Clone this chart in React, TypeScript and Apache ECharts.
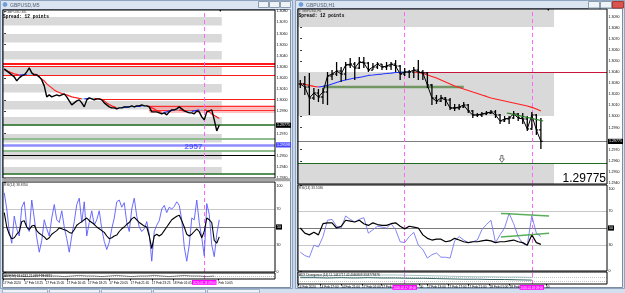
import React, { useEffect, useRef } from "react";
import * as echarts from "echarts";

// ================= LEFT WINDOW : GBPUSD,M5 =================
const leftClose = [
  1.30282, 1.30264, 1.30246, 1.30228, 1.3021, 1.30174, 1.30201, 1.30219, 1.30228, 1.30255,
  1.30291, 1.30246, 1.30228, 1.30228, 1.3021, 1.30183, 1.30129, 1.3003, 1.30048, 1.3003,
  1.30039, 1.30048, 1.30039, 1.30048, 1.30057, 1.3003, 1.29994, 1.29958, 1.29976, 1.29994,
  1.30003, 1.29976, 1.2994, 1.30003, 1.30021, 1.30012, 1.30003, 1.30012, 1.30012, 1.30003,
  1.29976, 1.29958, 1.2994, 1.29931, 1.29931, 1.29922, 1.29931, 1.29931, 1.2994, 1.2994,
  1.2994, 1.29949, 1.2994, 1.29949, 1.29949, 1.29958, 1.29949, 1.29949, 1.2994, 1.29895,
  1.29895, 1.29895, 1.29886, 1.29877, 1.29886, 1.29868, 1.29895, 1.29913, 1.29913, 1.29922,
  1.2994, 1.29922, 1.29904, 1.29895, 1.29886, 1.29886, 1.29877, 1.29904, 1.29895, 1.2985,
  1.29823, 1.29895, 1.29904, 1.29913, 1.29823, 1.29724, 1.29775,
];
const leftMA = [
  1.30273, 1.30264, 1.30255, 1.30246, 1.30237, 1.30232, 1.30226, 1.30229, 1.30231, 1.30233,
  1.30234, 1.30235, 1.30235, 1.3023, 1.3021, 1.30192, 1.30174, 1.30147, 1.30129, 1.30111,
  1.30093, 1.30079, 1.3007, 1.30061, 1.30052, 1.30048, 1.30039, 1.3003, 1.30025, 1.30021,
  1.30016, 1.30012, 1.30012, 1.30014, 1.30016, 1.30017, 1.30017, 1.30012, 1.3001, 1.30007,
  1.29994, 1.29976, 1.29962, 1.29949, 1.2994, 1.29931, 1.29931, 1.29932, 1.29935, 1.29936,
  1.2994, 1.29941, 1.29942, 1.29944, 1.29945, 1.29949, 1.29949, 1.29948, 1.29944, 1.29931,
  1.29922, 1.29908, 1.29899, 1.2989, 1.2989, 1.29895, 1.29904, 1.29908, 1.29913, 1.29914,
  1.29913, 1.29908, 1.29904, 1.29899, 1.29899, 1.299, 1.29904, 1.29908, 1.29913, 1.29914,
  1.29913, 1.29908, 1.29895, 1.29877, 1.29863, 1.2985, 1.29836,
];
const leftRsiFast = [
  88, 70, 45, 32, 62, 48, 40, 72, 78, 50,
  45, 80, 60, 38, 22, 35, 58, 48, 40, 60,
  75, 58, 55, 68, 50, 37, 22, 40, 56, 75,
  82, 55, 78, 40, 55, 68, 52, 58, 68, 48,
  34, 25, 33, 48, 60, 78, 80, 72, 77, 55,
  45, 70, 82, 62, 50, 45, 48, 56, 42, 12,
  45, 52, 57, 70, 74, 66, 72, 70, 73, 78,
  74, 58, 28, 12, 30, 60, 58, 80, 55, 38,
  18, 76, 64, 30, 17, 42, 58,
];
const leftRsiSlow = [
  66, 50, 42, 37, 38, 42, 45, 56, 57, 50,
  47, 51, 52, 46, 43, 41, 39, 36, 38, 42,
  44, 46, 49, 48, 47, 46, 44, 43, 47, 52,
  54, 56, 58, 60, 57, 55, 53, 50, 48, 46,
  44, 40, 37, 38, 40, 41, 45, 48, 50, 53,
  55, 59, 61, 58, 55, 53, 51, 50, 40, 26,
  40, 42, 40, 42, 46, 50, 54, 58, 60, 62,
  63, 57, 50, 42, 40, 42, 45, 48, 45, 38,
  45, 60, 58, 55, 35, 32, 39,
];
const leftAdx = [5, 6, 5, 4, 5, 6, 5, 5, 4, 5, 6, 5, 5, 4, 5, 6, 5, 4, 5, 5, 6, 5, 4, 5, 6, 5, 5, 4, 5];
const leftPriceTicks = [
  1.293, 1.294, 1.295, 1.296, 1.297, 1.298, 1.299, 1.3, 1.301, 1.302, 1.303, 1.304, 1.305, 1.306, 1.307, 1.308,
];
// time labels as they remain visible around the magenta cursor-time boxes
const leftTimeTicks = [-0.5, 8, 16.5, 25, 33.5, 42, 50.5, 59, 67.5, 85.7];
const leftTimeLabels = [
  "17 Feb 2020", "17 Feb 13:25", "17 Feb 15:05", "17 Feb 16:45", "17 Feb 18:25",
  "17 Feb 20:05", "17 Feb 21:45", "17 Feb 23:25", "18 Feb 01:05", "Feb 10:05",
];
const leftBands = [
  [1.3075, 1.30673], [1.30597, 1.3052], [1.30443, 1.30367], [1.303, 1.30223], [1.30146, 1.3007],
  [1.29993, 1.29917], [1.2985, 1.29773], [1.29697, 1.2962], [1.29543, 1.29467], [1.294, 1.29341],
];
const leftBandEnd = 87;
const leftRedLevels = [1.30331, 1.30305, 1.30228];
const leftRedPartial = 1.30012;
const leftRedPartialFrom = 39;
const leftPinkZone = [1.29958, 1.29886];
const leftPinkLevels = [1.29949, 1.29913];
const leftPinkFrom = 58;
const leftBid = 1.29775;
const leftGreenLight = [1.29652, 1.29544];
const leftBlueLevel = 1.29598;
const leftBlackLevel = 1.29508;
const leftGreenDark = 1.29337;
const leftVLine = 80;
const leftVLineLabel = "2020.02.18 09:00";
const leftNoteText = "2957";
const leftNoteAt = [75.7, 1.29588];

// ================= RIGHT WINDOW : GBPUSD,H1 =================
const rightClose = [
  1.30292, 1.30265, 1.30166, 1.30211, 1.30175, 1.3022, 1.30364, 1.30382, 1.30409, 1.30382,
  1.30463, 1.30472, 1.30436, 1.3049, 1.30481, 1.30418, 1.30445, 1.30472, 1.30445, 1.30454,
  1.30472, 1.30454, 1.30382, 1.304, 1.304, 1.30418, 1.304, 1.30391, 1.30283, 1.30166,
  1.30139, 1.30166, 1.30148, 1.30076, 1.30076, 1.30085, 1.30103, 1.30049, 1.30013, 1.30013,
  1.30022, 1.30031, 1.3004, 1.30013, 1.29959, 1.29977, 1.29986, 1.30022, 1.29986, 1.29977,
  1.29887, 1.30013, 1.29878, 1.29775,
];
const rightHigh = [
  1.30328, 1.30364, 1.30391, 1.30256, 1.30247, 1.30256, 1.304, 1.30418, 1.3049, 1.30445,
  1.3049, 1.30526, 1.3049, 1.30535, 1.30535, 1.3049, 1.30481, 1.3049, 1.30472, 1.3049,
  1.3049, 1.30508, 1.30463, 1.30436, 1.30418, 1.30445, 1.30508, 1.30418, 1.304, 1.30292,
  1.30193, 1.30193, 1.30175, 1.30166, 1.30112, 1.30112, 1.3013, 1.30112, 1.30058, 1.30031,
  1.3004, 1.30049, 1.30058, 1.30058, 1.30022, 1.30004, 1.30004, 1.30049, 1.30031, 1.30031,
  1.30004, 1.3004, 1.30022, 1.29986,
];
const rightLow = [
  1.30256, 1.30193, 1.30013, 1.30148, 1.3013, 1.30112, 1.30103, 1.30328, 1.30364, 1.3031,
  1.30328, 1.30436, 1.30328, 1.30427, 1.30436, 1.304, 1.30418, 1.30427, 1.30418, 1.30418,
  1.30418, 1.304, 1.30328, 1.30364, 1.30346, 1.30346, 1.30328, 1.30328, 1.30256, 1.30103,
  1.30112, 1.3013, 1.30094, 1.30058, 1.30049, 1.30058, 1.30076, 1.30031, 1.29986, 1.29995,
  1.29995, 1.30013, 1.30022, 1.29986, 1.29932, 1.2995, 1.29932, 1.29977, 1.29959, 1.29932,
  1.29869, 1.29878, 1.29833, 1.29707,
];
const rightMA = [
  1.30297, 1.30288, 1.30279, 1.3027, 1.30265, 1.3027, 1.30279, 1.30292, 1.30306, 1.30319,
  1.30328, 1.30337, 1.30346, 1.30351, 1.3036, 1.30369, 1.30373, 1.30378, 1.30382, 1.30387,
  1.30391, 1.30396, 1.30397, 1.304, 1.304, 1.304, 1.30396, 1.30387, 1.30373, 1.3036,
  1.30346, 1.30328, 1.3031, 1.30292, 1.30274, 1.30261, 1.30247, 1.30234, 1.3022, 1.30207,
  1.30193, 1.3018, 1.30166, 1.30157, 1.30148, 1.30139, 1.3013, 1.30121, 1.30112, 1.30103,
  1.30094, 1.30081, 1.30067, 1.30049,
];
const rightRsiFast = [
  22, 18, 16, 30, 28, 40, 59, 60, 52, 50,
  64, 60, 57, 60, 62, 44, 48, 52, 51, 50,
  55, 48, 34, 33, 40, 45, 30, 25, 15, 19,
  21, 16, 16, 15, 35, 40, 36, 33, 34, 36,
  48, 54, 59, 33, 42, 50, 67, 55, 40, 32,
  30, 64, 44, 40,
];
const rightRsiSlow = [
  50, 44, 42, 45, 42, 55, 56, 56, 50, 52,
  59, 58, 57, 59, 55, 53, 56, 54, 53, 53,
  55, 56, 52, 49, 52, 51, 50, 42, 38, 36,
  37, 37, 34, 35, 38, 36, 34, 33, 34, 34,
  35, 36, 35, 33, 34, 34, 35, 36, 34, 33,
  30, 42, 33, 31,
];
const rightAdxMain = [21, 21, 20, 21, 20, 21, 20, 20, 19, 19, 18, 17, 16, 16, 15, 15, 14, 13];
const rightAdxSignal = [27, 27, 28, 28, 29, 29, 30, 30, 29, 28, 27, 26, 25, 24, 24, 23, 23, 22];
const rightPriceTicks = [
  1.294, 1.295, 1.296, 1.297, 1.298, 1.299, 1.3, 1.301, 1.302, 1.303, 1.304, 1.305, 1.306, 1.307, 1.308, 1.309,
];
const rightTimeTicks = [-0.5, 4.3, 9, 13.6, 17.9, 26.3, 27.9, 32.5, 36.9, 41.7, 46.1, 54.1];
const rightTimeLabels = [
  "14 Feb 2020", "14 Feb 17:00", "14 Feb 21:00", "17 Feb 01:00", "17 Feb", "00",
  "17 Feb 13:00", "17 Feb 17:00", "17 Feb 21:00", "18 Feb 01:00", "18 Feb", "00",
];
const rightBands = [[1.30968, 1.30805], [1.304, 1.30004], [1.29581, 1.29391]];
const rightBandEnd = 55.9;
const rightRedLevel = 1.304;
const rightRedFrom = 26.4;
const rightBid = 1.29775;
const rightGreenLevel = 1.29581;
const rightOliveX = [5, 36];
const rightOliveY = [1.30265, 1.30265];
const rightTrendX = [45.5, 53.5];
const rightTrendY = [1.30031, 1.29959];
const rightRsiTrendX = [44.2, 54.8];
const rightRsiUpperY = [67, 64];
const rightRsiLowerY = [39.5, 44];
const rightVLines = [23, 51];
const rightVLineLabels = ["2020.02.17 09:00", "2020.02.18 09:00"];
const rightArrowAt = [44.4, 1.29617];
const rightBigLabel = "1.29775";

const rsiLevels = [30, 50, 70];
const rsiTicks = [0, 30, 70, 100];

// ================= helpers =================
const FONT = "'Liberation Sans', Arial, sans-serif";
const MONO = "'Liberation Mono', 'DejaVu Sans Mono', monospace";
const LEFT_XMAX = 108.3;
const RIGHT_XMAX = 67.56;
const ADX_STEP = 3;

const pairs = (arr: number[]) => arr.map((v, i) => [i, v]);

// axis ticks hidden under a price box (the terminal draws the box over them)
const freeTicks = (ticks: number[], boxes: number[]) =>
  ticks.filter((t) => boxes.every((b) => Math.abs(t - b) > 0.00035));

function splitTrend(values: number[], eps: number) {
  const empty = () => values.map(() => null as number | null);
  const up = empty(), down = empty(), flat = empty();
  for (let i = 0; i < values.length - 1; i++) {
    const d = values[i + 1] - values[i];
    const t = d > eps ? up : d < -eps ? down : flat;
    t[i] = values[i];
    t[i + 1] = values[i + 1];
  }
  return { up, down, flat };
}

function trendSeries(values: number[], xi: number, yi: number) {
  const s = splitTrend(values, 0.000012);
  const parts: [string, (number | null)[]][] = [
    ["#8fd3f0", s.flat],
    ["#ff2020", s.down],
    ["#2438ff", s.up],
  ];
  return parts.map(([color, data]) => ({
    type: "line",
    xAxisIndex: xi,
    yAxisIndex: yi,
    data: data.map((v, i) => [i, v == null ? "-" : v]),
    showSymbol: false,
    symbol: "none",
    silent: true,
    z: 3,
    lineStyle: { color, width: 1.2 },
  }));
}

const mlBase = {
  silent: true,
  symbol: "none",
  precision: 5,
  z: 1.5,
  label: { show: false },
  lineStyle: { type: "solid" },
  emphasis: { disabled: true },
};

function priceLabel(bg: string) {
  return {
    show: true,
    position: "end",
    distance: 1,
    formatter: (p: any) => Number(p.value).toFixed(5),
    color: "#fff",
    backgroundColor: bg,
    fontSize: 3.6,
    padding: [0.6, 1],
    fontFamily: FONT,
  };
}

const vDash = { color: "#ff66ff", width: 1, type: [4, 3] };

function magentaLabel(text: string) {
  return {
    show: true,
    position: "start",
    distance: 1,
    formatter: text,
    color: "#fff",
    backgroundColor: "#ff00ff",
    fontSize: 2.9,
    padding: [0.9, 1],
    fontFamily: FONT,
  };
}

function rsiLevelLines(xs: number[]) {
  return [
    ...rsiLevels.map((lv) =>
      lv === 50
        ? {
            yAxis: lv,
            lineStyle: { color: "#7a7a7a", width: 1 },
            label: { ...priceLabel("#000"), formatter: String(lv) },
          }
        : { yAxis: lv, lineStyle: { color: "#c8c8c8", width: 1 } }
    ),
    ...xs.map((x) => ({ xAxis: x, lineStyle: vDash })),
  ];
}

function timeAxis(grid: number, max: number, ticks: number[], labels: string[], margin: number) {
  return {
    type: "value",
    gridIndex: grid,
    min: -0.5,
    max,
    splitLine: { show: false },
    axisLine: { show: false },
    axisTick: { show: true, customValues: ticks, length: 1.5, lineStyle: { color: "#000" } },
    axisLabel: {
      customValues: ticks,
      formatter: (v: number) => labels[ticks.indexOf(v)] ?? "",
      fontSize: 3.2,
      color: "#000",
      margin,
      align: "left",
      fontFamily: FONT,
    },
  };
}

function priceAxis(grid: number, min: number, max: number, ticks: number[]) {
  return {
    type: "value",
    gridIndex: grid,
    position: "right",
    min,
    max,
    splitLine: { show: false },
    axisLine: { show: false },
    axisTick: { show: true, customValues: ticks, length: 1.5, lineStyle: { color: "#000" } },
    axisLabel: {
      customValues: ticks,
      formatter: (v: number) => v.toFixed(4),
      fontSize: 3.6,
      color: "#000",
      margin: 1.5,
      fontFamily: FONT,
    },
  };
}

function rsiAxis(grid: number) {
  return {
    type: "value",
    gridIndex: grid,
    position: "right",
    min: 0,
    max: 100,
    splitLine: { show: false },
    axisLine: { show: false },
    axisTick: { show: true, customValues: rsiTicks, length: 1.5, lineStyle: { color: "#000" } },
    axisLabel: {
      customValues: rsiTicks,
      formatter: (v: number) => (v === 100 ? "{top|100}" : String(v)),
      rich: { top: { fontSize: 3.6, padding: [7, 0, 0, 0], fontFamily: FONT, color: "#000" } },
      fontSize: 3.6,
      color: "#000",
      margin: 1.5,
      fontFamily: FONT,
    },
  };
}

function hiddenAxis(grid: number, min: number, max: number) {
  return { type: "value", gridIndex: grid, min, max, show: false };
}

function text(x: number, y: number, t: string, size: number, extra: any = {}) {
  return {
    type: "text",
    x,
    y,
    z: 50,
    silent: true,
    style: { text: t, fontSize: size, fill: "#222", fontFamily: FONT, verticalAlign: "middle", align: "left", ...extra },
  };
}

function rect(x: number, y: number, w: number, h: number, fill: string, stroke?: string, z = -18) {
  return {
    type: "rect",
    z,
    silent: true,
    shape: { x, y, width: w, height: h },
    style: stroke ? { fill, stroke, lineWidth: 1 } : { fill },
  };
}

const chrome: any[] = [
  rect(0, 0, 625, 293, "#c8d6e7", undefined, -20),
  // left window
  rect(0.5, 0.5, 292, 288, "#dbe5f1", "#8fa5bf", -19),
  rect(2.5, 9.5, 288, 278, "#ffffff", "#7b8ca3", -18),
  { type: "circle", z: 50, silent: true, shape: { cx: 5, cy: 4.5, r: 2.4 }, style: { fill: "#6f9fd6" } },
  text(10, 4.8, "GBPUSD,M5", 5, { fill: "#55606e" }),
  rect(258.5, 1.5, 10, 6, "#eef3f8", "#8c9db2", 40),
  rect(269.5, 1.5, 10, 6, "#eef3f8", "#8c9db2", 40),
  rect(280.5, 1.5, 10, 6, "#eef3f8", "#8c9db2", 40),
  rect(2, 178.3, 289, 3, "#a6a6a6", undefined, 10),
  text(3.5, 12.3, "\u25BE GBPUSD,M5", 3.4, { fill: "#444" }),
  text(3, 16.3, "Spread: 12 points", 4.5, { fontFamily: MONO, fontWeight: "bold", fill: "#000" }),
  text(218.5, 10.8, "\u25BC", 3.5, { fill: "#000" }),
  text(4, 184.5, "RSI(14) 38.8350", 3.3, { fill: "#333" }),
  text(4, 275.5, "ADX(14) 24.6183 21.0457 18.3371", 3.1, { fill: "#111" }),
  // right window
  rect(295.5, 0.5, 329, 288, "#dbe5f1", "#8fa5bf", -19),
  rect(297.5, 8.5, 325, 279, "#ffffff", "#7b8ca3", -18),
  { type: "circle", z: 50, silent: true, shape: { cx: 301, cy: 4.5, r: 2.4 }, style: { fill: "#6f9fd6" } },
  text(306, 4.8, "GBPUSD,H1", 5, { fill: "#55606e" }),
  rect(588.5, 1.5, 11, 6.5, "#eef3f8", "#8c9db2", 40),
  rect(600.5, 1.5, 11, 6.5, "#eef3f8", "#8c9db2", 40),
  rect(612.5, 1.5, 11, 6.5, "#d9534f", "#a83a36", 40),
  text(299, 11.3, "\u25BE GBPUSD,H1", 3.4, { fill: "#444" }),
  text(298.5, 15.8, "Spread: 12 points", 4.5, { fontFamily: MONO, fontWeight: "bold", fill: "#000" }),
  text(546.5, 10.3, "\u25BC", 3.5, { fill: "#000" }),
  text(299, 188.3, "RSI(14) 33.5036", 3.3, { fill: "#333" }),
  text(299, 274.6, "ADX Divergence (14) 11.1441717 42.4060809 33.8779476", 3.1, { fill: "#111" }),
  text(606, 177.5, rightBigLabel, 12, { align: "right", fill: "#000" }),
  // bottom tab bar
  rect(0, 289, 625, 4, "#d3dfee", undefined, -17),
  rect(2.5, 289.5, 45, 3.5, "#eef3f9", "#9fb2c9", -16),
  rect(49.5, 289.5, 50, 3.5, "#eef3f9", "#9fb2c9", -16),
  rect(101.5, 289.5, 50, 3.5, "#eef3f9", "#9fb2c9", -16),
  rect(153.5, 289.5, 52, 3.5, "#eef3f9", "#9fb2c9", -16),
  rect(207.5, 289.5, 52, 3.5, "#eef3f9", "#9fb2c9", -16),
];

// ================= option =================
const grids = [
  { left: 3, top: 10, width: 272, height: 168 },
  { left: 3, top: 182, width: 272, height: 90 },
  { left: 3, top: 273, width: 272, height: 6 },
  { left: 298, top: 9, width: 309, height: 175 },
  { left: 298, top: 185, width: 309, height: 86 },
  { left: 298, top: 272, width: 309, height: 12 },
].map((g) => ({
  ...g,
  show: true,
  z: 3,
  borderColor: "#000",
  borderWidth: 1,
  backgroundColor: "transparent",
  containLabel: false,
  outerBoundsMode: "none",
}));

const option: any = {
  animation: false,
  backgroundColor: "transparent",
  grid: grids,
  graphic: { elements: chrome },
  xAxis: [
    hiddenAxis(0, -0.5, LEFT_XMAX),
    hiddenAxis(1, -0.5, LEFT_XMAX),
    timeAxis(2, LEFT_XMAX, leftTimeTicks, leftTimeLabels, 2),
    hiddenAxis(3, -0.5, RIGHT_XMAX),
    hiddenAxis(4, -0.5, RIGHT_XMAX),
    timeAxis(5, RIGHT_XMAX, rightTimeTicks, rightTimeLabels, 1),
  ],
  yAxis: [
    priceAxis(0, 1.293, 1.30812, freeTicks(leftPriceTicks, [leftBid, leftBlueLevel])),
    rsiAxis(1),
    { ...hiddenAxis(2, 0, 10) },
    priceAxis(3, 1.29391, 1.30968, freeTicks(rightPriceTicks, [rightBid])),
    rsiAxis(4),
    { ...hiddenAxis(5, 0, 40) },
  ],
  series: [
    // ---------- left main ----------
    {
      type: "line",
      xAxisIndex: 0,
      yAxisIndex: 0,
      data: [],
      silent: true,
      markArea: {
        silent: true,
        z: 1,
        itemStyle: { color: "#d9d9d9" },
        emphasis: { disabled: true },
        data: [
          ...leftBands.map(([a, b]) => [{ coord: [-0.5, a] }, { coord: [leftBandEnd, b] }]),
          [
            { coord: [leftPinkFrom, leftPinkZone[0]], itemStyle: { color: "rgba(255,120,120,0.45)" } },
            { coord: [LEFT_XMAX, leftPinkZone[1]] },
          ],
        ],
      },
      markLine: {
        ...mlBase,
        data: [
          { yAxis: leftRedLevels[0], lineStyle: { color: "#ff1a1a", width: 2 } },
          { yAxis: leftRedLevels[1], lineStyle: { color: "#ff1a1a", width: 1 } },
          { yAxis: leftRedLevels[2], lineStyle: { color: "#ff1a1a", width: 1 } },
          [
            { coord: [leftRedPartialFrom, leftRedPartial], lineStyle: { color: "#ff1a1a", width: 1 } },
            { coord: [LEFT_XMAX, leftRedPartial] },
          ],
          ...leftPinkLevels.map((p) => [
            { coord: [leftPinkFrom, p], lineStyle: { color: "#ff3030", width: 1 } },
            { coord: [LEFT_XMAX, p] },
          ]),
          { yAxis: leftBid, lineStyle: { color: "#1e6b1e", width: 1.5 }, label: priceLabel("#000") },
          { yAxis: leftGreenLight[0], lineStyle: { color: "#8fbc8f", width: 2 } },
          { yAxis: leftBlueLevel, lineStyle: { color: "#8c8cff", width: 2.5 }, label: priceLabel("#4646ff") },
          { yAxis: leftGreenLight[1], lineStyle: { color: "#8fbc8f", width: 2 } },
          { yAxis: leftBlackLevel, lineStyle: { color: "#000", width: 1 } },
          { yAxis: leftGreenDark, lineStyle: { color: "#1e6b1e", width: 1.5 } },
          { xAxis: leftVLine, lineStyle: vDash },
        ],
      },
    },
    ...trendSeries(leftMA, 0, 0),
    {
      type: "line",
      xAxisIndex: 0,
      yAxisIndex: 0,
      data: pairs(leftClose),
      showSymbol: false,
      symbol: "none",
      silent: true,
      z: 4,
      lineStyle: { color: "#000", width: 1.4 },
    },
    {
      type: "scatter",
      xAxisIndex: 0,
      yAxisIndex: 0,
      data: [leftNoteAt],
      symbolSize: 0.5,
      silent: true,
      z: 6,
      itemStyle: { color: "rgba(0,0,0,0)" },
      label: {
        show: true,
        position: "inside",
        formatter: leftNoteText,
        fontSize: 8,
        fontWeight: "bold",
        color: "#3c3cff",
        fontFamily: FONT,
      },
    },
    // ---------- left RSI ----------
    {
      type: "line",
      xAxisIndex: 1,
      yAxisIndex: 1,
      data: pairs(leftRsiFast),
      showSymbol: false,
      symbol: "none",
      silent: true,
      z: 3,
      lineStyle: { color: "#5a5aff", width: 0.9 },
      markLine: { ...mlBase, data: rsiLevelLines([leftVLine]) },
    },
    {
      type: "line",
      xAxisIndex: 1,
      yAxisIndex: 1,
      data: pairs(leftRsiSlow),
      showSymbol: false,
      symbol: "none",
      silent: true,
      z: 4,
      lineStyle: { color: "#000", width: 1.1 },
    },
    // ---------- left ADX ----------
    {
      type: "line",
      xAxisIndex: 2,
      yAxisIndex: 2,
      data: leftAdx.map((v, k) => [k * ADX_STEP, v]),
      showSymbol: false,
      symbol: "none",
      silent: true,
      z: 3,
      lineStyle: { color: "#333", width: 0.6 },
      markLine: {
        ...mlBase,
        data: [
          { yAxis: 5, lineStyle: { color: "#888", width: 0.6, type: [1, 1] } },
          { xAxis: leftVLine, lineStyle: vDash, label: magentaLabel(leftVLineLabel) },
        ],
      },
    },
    // ---------- right main ----------
    {
      type: "line",
      xAxisIndex: 3,
      yAxisIndex: 3,
      data: [],
      silent: true,
      markArea: {
        silent: true,
        z: 1,
        itemStyle: { color: "#d9d9d9" },
        emphasis: { disabled: true },
        data: rightBands.map(([a, b]) => [{ coord: [-0.5, a] }, { coord: [rightBandEnd, b] }]),
      },
      markLine: {
        ...mlBase,
        data: [
          [
            { coord: [rightRedFrom, rightRedLevel], lineStyle: { color: "#c8143c", width: 1 } },
            { coord: [RIGHT_XMAX, rightRedLevel] },
          ],
          { yAxis: rightBid, lineStyle: { color: "#7d7d7d", width: 1 }, label: priceLabel("#000") },
          { yAxis: rightGreenLevel, lineStyle: { color: "#1e6b1e", width: 1.2 } },
          ...rightVLines.map((x) => ({ xAxis: x, lineStyle: vDash })),
        ],
      },
    },
    {
      type: "line",
      xAxisIndex: 3,
      yAxisIndex: 3,
      data: rightOliveX.map((x, i) => [x, rightOliveY[i]]),
      showSymbol: false,
      symbol: "none",
      silent: true,
      z: 2,
      lineStyle: { color: "rgba(70,120,50,0.7)", width: 2.5 },
    },
    ...trendSeries(rightMA, 3, 3),
    {
      type: "custom",
      xAxisIndex: 3,
      yAxisIndex: 3,
      silent: true,
      z: 4,
      data: rightClose.map((c, i) => [i, rightLow[i], rightHigh[i], i === 0 ? c : rightClose[i - 1], c]),
      encode: { x: 0, y: [1, 2] },
      renderItem: (_p: any, api: any) => {
        const x = api.value(0);
        const lo = api.coord([x, api.value(1)]);
        const hi = api.coord([x, api.value(2)]);
        const op = api.coord([x, api.value(3)]);
        const cl = api.coord([x, api.value(4)]);
        const st = { stroke: "#000", lineWidth: 1.3 };
        return {
          type: "group",
          children: [
            { type: "line", shape: { x1: hi[0], y1: hi[1], x2: lo[0], y2: lo[1] }, style: st },
            { type: "line", shape: { x1: op[0] - 1.8, y1: op[1], x2: op[0], y2: op[1] }, style: st },
            { type: "line", shape: { x1: cl[0], y1: cl[1], x2: cl[0] + 1.8, y2: cl[1] }, style: st },
          ],
        };
      },
    },
    {
      type: "line",
      xAxisIndex: 3,
      yAxisIndex: 3,
      data: pairs(rightClose),
      showSymbol: false,
      symbol: "none",
      silent: true,
      z: 5,
      lineStyle: { color: "#000", width: 1 },
    },
    {
      type: "line",
      xAxisIndex: 3,
      yAxisIndex: 3,
      data: rightTrendX.map((x, i) => [x, rightTrendY[i]]),
      showSymbol: false,
      symbol: "none",
      silent: true,
      z: 6,
      lineStyle: { color: "#1f7a1f", width: 1.2 },
    },
    {
      type: "scatter",
      xAxisIndex: 3,
      yAxisIndex: 3,
      data: [rightArrowAt],
      symbol: "path://M3,0 L7,0 L7,6 L10,6 L5,12 L0,6 L3,6 Z",
      symbolSize: [5, 7],
      silent: true,
      z: 6,
      itemStyle: { color: "#fff", borderColor: "#333", borderWidth: 0.8 },
    },
    // ---------- right RSI ----------
    {
      type: "line",
      xAxisIndex: 4,
      yAxisIndex: 4,
      data: pairs(rightRsiFast),
      showSymbol: false,
      symbol: "none",
      silent: true,
      z: 3,
      lineStyle: { color: "#7777f2", width: 0.9 },
      markLine: { ...mlBase, data: rsiLevelLines(rightVLines) },
    },
    {
      type: "line",
      xAxisIndex: 4,
      yAxisIndex: 4,
      data: pairs(rightRsiSlow),
      showSymbol: false,
      symbol: "none",
      silent: true,
      z: 4,
      lineStyle: { color: "#000", width: 1.2 },
    },
    ...[rightRsiUpperY, rightRsiLowerY].map((ys) => ({
      type: "line",
      xAxisIndex: 4,
      yAxisIndex: 4,
      data: rightRsiTrendX.map((x, i) => [x, ys[i]]),
      showSymbol: false,
      symbol: "none",
      silent: true,
      z: 5,
      lineStyle: { color: "rgba(60,160,60,0.85)", width: 1.5 },
    })),
    // ---------- right ADX ----------
    {
      type: "line",
      xAxisIndex: 5,
      yAxisIndex: 5,
      data: rightAdxSignal.map((v, k) => [k * ADX_STEP, v]),
      showSymbol: false,
      symbol: "none",
      silent: true,
      z: 3,
      lineStyle: { color: "#8fb0b0", width: 0.8 },
      markLine: {
        ...mlBase,
        data: [
          { yAxis: 23, lineStyle: { color: "#999", width: 0.6, type: [1, 1] } },
          { yAxis: 10, lineStyle: { color: "#999", width: 0.6, type: [1, 1] } },
          ...rightVLines.map((x, i) => ({ xAxis: x, lineStyle: vDash, label: magentaLabel(rightVLineLabels[i]) })),
        ],
      },
    },
    {
      type: "line",
      xAxisIndex: 5,
      yAxisIndex: 5,
      data: rightAdxMain.map((v, k) => [k * ADX_STEP, v]),
      showSymbol: false,
      symbol: "none",
      silent: true,
      z: 4,
      lineStyle: { color: "#1f5656", width: 0.9 },
    },
  ],
};

export default function App() {
  const ref = useRef<HTMLDivElement>(null);
  useEffect(() => {
    document.body.style.margin = "0";
    const chart = echarts.init(ref.current as HTMLDivElement, null, { renderer: "svg", width: 625, height: 293 });
    chart.setOption(option);
    return () => chart.dispose();
  }, []);
  return <div ref={ref} style={{ position: "fixed", left: 0, top: 0, width: 625, height: 293 }} />;
}
